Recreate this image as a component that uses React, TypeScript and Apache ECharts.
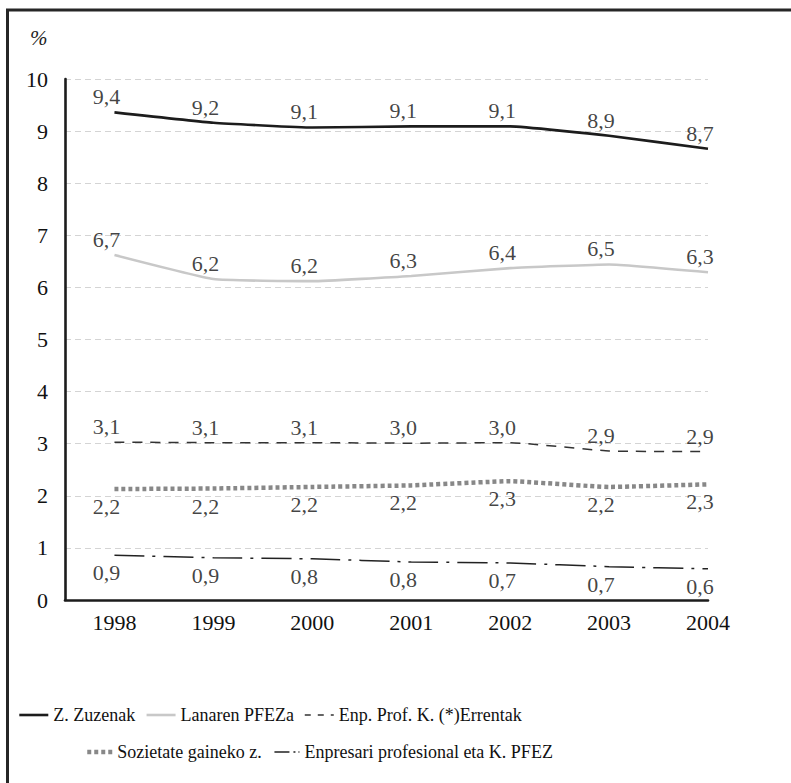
import React, { useEffect, useRef } from "react";
import * as echarts from "echarts";

const years = [1998, 1999, 2000, 2001, 2002, 2003, 2004];
const yTicks = [0, 1, 2, 3, 4, 5, 6, 7, 8, 9, 10];

const zuzenak = [9.36, 9.16, 9.07, 9.09, 9.09, 8.91, 8.66];
const zuzenakLabels = [9.4, 9.2, 9.1, 9.1, 9.1, 8.9, 8.7];

const lanaren = [6.62, 6.16, 6.12, 6.22, 6.37, 6.44, 6.29];
const lanarenLabels = [6.7, 6.2, 6.2, 6.3, 6.4, 6.5, 6.3];

const enpProf = [3.03, 3.02, 3.02, 3.01, 3.02, 2.86, 2.85];
const enpProfLabels = [3.1, 3.1, 3.1, 3.0, 3.0, 2.9, 2.9];

const sozietate = [2.13, 2.14, 2.17, 2.2, 2.28, 2.17, 2.22];
const sozietateLabels = [2.2, 2.2, 2.2, 2.2, 2.3, 2.2, 2.3];

const enpresari = [0.86, 0.81, 0.79, 0.73, 0.71, 0.64, 0.6];
const enpresariLabels = [0.9, 0.9, 0.8, 0.8, 0.7, 0.7, 0.6];

const names = [
  "Z. Zuzenak",
  "Lanaren PFEZa",
  "Enp. Prof. K. (*)Errentak",
  "Sozietate gaineko z.",
  "Enpresari profesional eta K. PFEZ",
];

const FONT = "'Liberation Serif', 'Times New Roman', serif";

function fmt(v: number) {
  return v.toFixed(1).replace(".", ",");
}

export default function App() {
  const ref = useRef<HTMLDivElement>(null);
  useEffect(() => {
    if (!ref.current) return;
    const chart = echarts.init(ref.current, undefined, { renderer: "svg" });

    const mkLine = (name: string, vals: number[], lineStyle: any, z: number) => ({
      type: "line",
      name,
      data: years.map((y, i) => [y, vals[i]]),
      symbol: "none",
      smooth: 0.12,
      z,
      color: lineStyle.color,
      lineStyle,
    });

    const mkLabels = (
      id: string,
      vals: number[],
      labels: number[],
      pos: "top" | "bottom"
    ) => ({
      type: "scatter",
      name: id,
      data: years.map((y, i) => [y, vals[i]]),
      symbol: "circle",
      symbolSize: 1,
      itemStyle: { color: "rgba(0,0,0,0)" },
      silent: true,
      z: 10,
      label: {
        show: true,
        position: pos,
        distance: pos === "top" ? 4 : 6,
        offset: [-8, 0],
        fontFamily: FONT,
        fontSize: 22,
        color: "#111",
        formatter: (p: any) => fmt(labels[p.dataIndex]),
      },
    });

    const zStyle = { color: "#1c1c1c", width: 2.6 };
    const lStyle = { color: "#c8c8c8", width: 2.6 };
    const eStyle = { color: "#333", width: 1.5, type: [10, 8] };
    const sStyle = { color: "#888", width: 4.5, type: [4, 3], cap: "butt" };
    const pStyle = { color: "#222", width: 1.5, type: [30, 8, 3, 8] };

    const hideSym = { color: "rgba(0,0,0,0)", borderWidth: 0, opacity: 0 };

    chart.setOption({
      animation: false,
      grid: { left: 65, right: 83, top: 79, bottom: 183 },
      xAxis: {
        type: "value",
        min: 1997.5,
        max: 2004,
        interval: 0.5,
        axisLine: { show: true, lineStyle: { color: "#1c1c1c", width: 2.6 } },
        axisTick: { show: false },
        splitLine: { show: false },
        axisLabel: {
          margin: 11,
          fontFamily: FONT,
          fontSize: 22,
          color: "#111",
          formatter: (v: number) => (Number.isInteger(v) && years.includes(v) ? String(v) : ""),
        },
      },
      yAxis: {
        type: "value",
        min: yTicks[0],
        max: yTicks[yTicks.length - 1],
        interval: 1,
        axisLine: { show: true, lineStyle: { color: "#1c1c1c", width: 2.6 } },
        axisTick: { show: false },
        splitLine: { show: true, lineStyle: { color: "#d4d4d4", width: 1, type: [6, 4] } },
        axisLabel: { margin: 17, fontFamily: FONT, fontSize: 22, color: "#111" },
      },
      legend: [
        {
          left: 18,
          top: 706,
          padding: 0,
          itemWidth: 29,
          itemHeight: 14,
          itemGap: 10,
          textStyle: { fontFamily: FONT, fontSize: 18, color: "#111" },
          data: [
            { name: names[0], lineStyle: { width: 2.6 }, itemStyle: hideSym },
            { name: names[1], lineStyle: { width: 2.6 }, itemStyle: hideSym },
            { name: names[2], lineStyle: { width: 1.5, type: [6, 7] }, itemStyle: hideSym },
          ],
        },
        {
          left: 85,
          top: 743,
          padding: 0,
          itemWidth: 25,
          itemHeight: 14,
          itemGap: 12,
          textStyle: { fontFamily: FONT, fontSize: 18, color: "#111" },
          data: [
            { name: names[3], lineStyle: { width: 4.5 }, itemStyle: hideSym },
            {
              name: names[4],
              lineStyle: { width: 1.5, type: [15, 4, 2, 3, 1.5, 10] },
              itemStyle: hideSym,
            },
          ],
        },
      ],
      graphic: [
        {
          type: "rect",
          shape: { x: 7.5, y: 10, width: 1000, height: 1000 },
          style: { fill: "none", stroke: "#262626", lineWidth: 3 },
          silent: true,
        },
        {
          type: "text",
          x: 30,
          y: 27,
          style: {
            text: "%",
            font: `italic 21px ${FONT}`,
            fill: "#222",
          },
        },
      ],
      series: [
        mkLine(names[0], zuzenak, zStyle, 5),
        mkLine(names[1], lanaren, lStyle, 4),
        mkLine(names[2], enpProf, eStyle, 3),
        mkLine(names[3], sozietate, sStyle, 2),
        mkLine(names[4], enpresari, pStyle, 1),
        mkLabels("lab0", zuzenak, zuzenakLabels, "top"),
        mkLabels("lab1", lanaren, lanarenLabels, "top"),
        mkLabels("lab2", enpProf, enpProfLabels, "top"),
        mkLabels("lab3", sozietate, sozietateLabels, "bottom"),
        mkLabels("lab4", enpresari, enpresariLabels, "bottom"),
      ],
    });
    return () => chart.dispose();
  }, []);
  return (
    <div
      ref={ref}
      style={{ position: "fixed", left: 0, top: 0, width: 791, height: 783, background: "#fff" }}
    />
  );
}
